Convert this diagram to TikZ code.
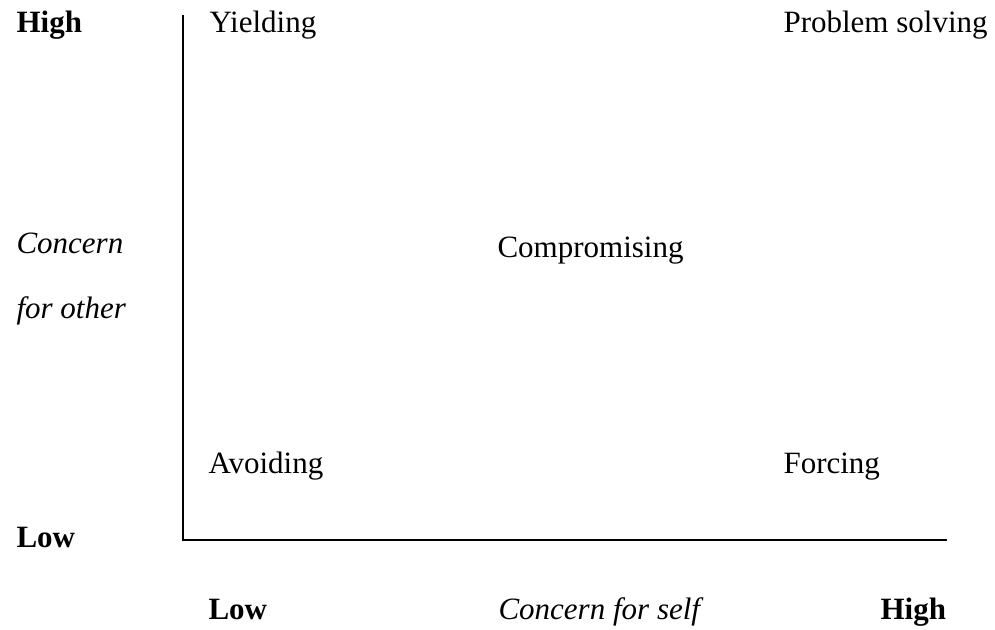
\documentclass[tikz,border=0pt]{standalone}
\usepackage{fontspec}
\setmainfont{Liberation Serif}
\usepackage{tikz}
\usetikzlibrary{
positioning
}
\tikzset{
gridlabel/.style={anchor=base west, inner sep=0pt, font=\fontsize{12}{14}\selectfont},
axislabel/.style={gridlabel, font=\fontsize{12}{14}\selectfont\bfseries},
axistitle/.style={gridlabel, font=\fontsize{12}{14}\selectfont\itshape},
axisline/.style={draw=black, line width=0.8pt}
}

\begin{document}
\begin{tikzpicture}[x=0.387pt, y=-0.387pt]
\useasboundingbox (0,0) rectangle (995,629);

% axes
\coordinate (ytop) at (183,15);
\coordinate (origin) at (183,540);
\coordinate (xend) at (947,540);
\draw[axisline] (ytop) -- (origin) -- (xend);

% vertical axis
\node[axislabel] (yhigh) at (16,32) {High};
\node[axistitle] (ytitle) at (16,253) {Concern};
\node[axistitle] (ytitle2) at (16,318) {for other};
\node[axislabel] (ylow) at (16,547) {Low};

% horizontal axis
\node[axislabel] (xlow) at (208,619) {Low};
\node[axistitle] (xtitle) at (498,619) {Concern for self};
\node[axislabel] (xhigh) at (880,619) {High};

% styles
\node[gridlabel] (yielding) at (209,32) {Yielding};
\node[gridlabel] (solving) at (783,32) {Problem solving};
\node[gridlabel] (compromise) at (497,257) {Compromising};
\node[gridlabel] (avoiding) at (208,473) {Avoiding};
\node[gridlabel] (forcing) at (783,473) {Forcing};
\end{tikzpicture}
\end{document}
